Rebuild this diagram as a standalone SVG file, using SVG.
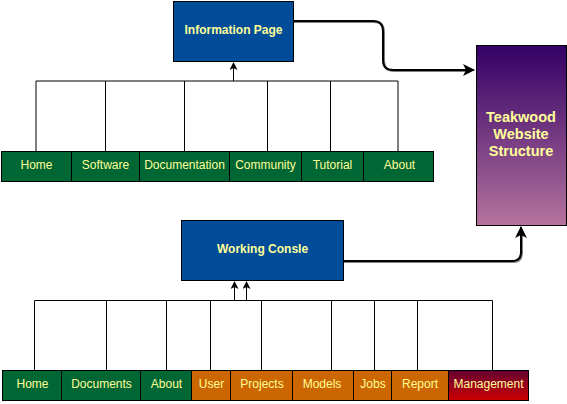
<svg xmlns="http://www.w3.org/2000/svg" width="567" height="404" viewBox="0 0 567 404">
<defs>
<linearGradient id="gPurple" x1="0" y1="0" x2="0" y2="1"><stop offset="0" stop-color="#330066"/><stop offset="1" stop-color="#B5739D"/></linearGradient>
<linearGradient id="gRed" x1="0" y1="0" x2="0" y2="1"><stop offset="0" stop-color="#660033"/><stop offset="1" stop-color="#CC0000"/></linearGradient>
<marker id="small" markerWidth="8" markerHeight="8" refX="7" refY="4" orient="auto" markerUnits="userSpaceOnUse"><path d="M0,0 L8,4 L0,8 L2,4 Z" fill="#000"/></marker>
<marker id="big" markerWidth="12" markerHeight="12" refX="11" refY="6" orient="auto" markerUnits="userSpaceOnUse"><path d="M0,0 L12,6 L0,12 L3,6 Z" fill="#000"/></marker>
</defs>
<style>
.box{stroke:#000;stroke-width:1}
.blue{fill:#004C99}
.green{fill:#006633}
.orange{fill:#CC6600}
.t{font-family:"Liberation Sans",Arial,sans-serif;font-size:12px;fill:#FFFF99;text-anchor:middle}
.b{font-weight:bold;font-size:12px}
.big{font-weight:bold;font-size:14.5px}
.ln{fill:none;stroke:#000;stroke-width:1}
.th{fill:none;stroke:#000;stroke-width:2}
</style>
<g id="connectors">
<path class="ln" d="M36,151 V81 H398 V151 M105.5,81 V151 M184.5,81 V151 M267.5,81 V151 M330.5,81 V151"/>
<path class="ln" d="M233.5,81 V63" marker-end="url(#small)"/>
<path class="ln" d="M34.5,370 V300.5 H492.5 V370 M106.5,300.5 V370 M166.5,300.5 V370 M210.5,300.5 V370 M261.5,300.5 V370 M331.5,300.5 V370 M374.5,300.5 V370 M417.5,300.5 V370"/>
<path class="ln" d="M234.5,300.5 V282" marker-end="url(#small)"/>
<path class="ln" d="M246.5,300.5 V282" marker-end="url(#small)"/>
<path class="th" stroke="#999" opacity="0.5" d="M294,22 H374 Q384,22 384,32 V61 Q384,71 394,71 H470"/>
<path class="th" d="M293,21 H373 Q383,21 383,31 V60 Q383,70 393,70 H474" marker-end="url(#big)"/>
<path class="th" stroke="#999" opacity="0.5" d="M344,262 H513 Q522,262 522,253 V232"/>
<path class="th" d="M343,261 H512 Q521,261 521,252 V227" marker-end="url(#big)"/>
</g>
<g id="info-page"><rect class="box blue" x="173.5" y="1.5" width="120" height="60"/><text class="t b" x="233.5" y="34">Information Page</text></g>
<g id="working-consle"><rect class="box blue" x="181.5" y="220.5" width="162" height="60"/><text class="t b" x="262.5" y="253">Working Consle</text></g>
<g id="teakwood"><rect class="box" fill="url(#gPurple)" x="476.5" y="45.5" width="90" height="180"/><text class="t big" x="521" y="122">Teakwood</text><text class="t big" x="521" y="139">Website</text><text class="t big" x="521" y="156">Structure</text></g>
<g id="top-home"><rect class="box green" x="1.5" y="151.5" width="70" height="30"/><text class="t" x="36.5" y="169">Home</text></g>
<g id="top-software"><rect class="box green" x="71.5" y="151.5" width="68" height="30"/><text class="t" x="105.5" y="169">Software</text></g>
<g id="top-documentation"><rect class="box green" x="139.5" y="151.5" width="90" height="30"/><text class="t" x="184.5" y="169">Documentation</text></g>
<g id="top-community"><rect class="box green" x="229.5" y="151.5" width="72" height="30"/><text class="t" x="265.5" y="169">Community</text></g>
<g id="top-tutorial"><rect class="box green" x="301.5" y="151.5" width="62" height="30"/><text class="t" x="332.5" y="169">Tutorial</text></g>
<g id="top-about"><rect class="box green" x="363.5" y="151.5" width="70" height="30"/><text class="t" x="399.5" y="169">About</text></g>
<g id="bot-home"><rect class="box green" x="2.5" y="370.5" width="59" height="30"/><text class="t" x="32.5" y="388">Home</text></g>
<g id="bot-documents"><rect class="box green" x="61.5" y="370.5" width="79" height="30"/><text class="t" x="101.5" y="388">Documents</text></g>
<g id="bot-about"><rect class="box green" x="140.5" y="370.5" width="51" height="30"/><text class="t" x="166.5" y="388">About</text></g>
<g id="bot-user"><rect class="box orange" x="191.5" y="370.5" width="39" height="30"/><text class="t" x="211.5" y="388">User</text></g>
<g id="bot-projects"><rect class="box orange" x="230.5" y="370.5" width="62" height="30"/><text class="t" x="262" y="388">Projects</text></g>
<g id="bot-models"><rect class="box orange" x="292.5" y="370.5" width="61" height="30"/><text class="t" x="322" y="388">Models</text></g>
<g id="bot-jobs"><rect class="box orange" x="353.5" y="370.5" width="38" height="30"/><text class="t" x="373" y="388">Jobs</text></g>
<g id="bot-report"><rect class="box orange" x="391.5" y="370.5" width="57" height="30"/><text class="t" x="420" y="388">Report</text></g>
<g id="bot-management"><rect class="box" fill="url(#gRed)" x="448.5" y="370.5" width="80" height="30"/><text class="t" x="488.5" y="388">Management</text></g>
</svg>
